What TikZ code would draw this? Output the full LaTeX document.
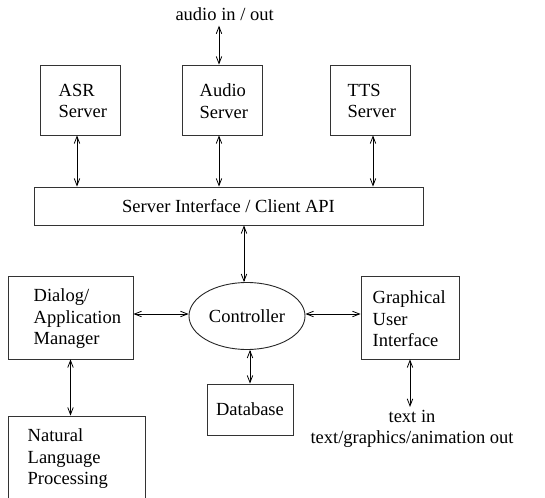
\documentclass[tikz,border=0pt]{standalone}
\usepackage{fontspec}
\setmainfont{Liberation Serif}
\usetikzlibrary{arrows.meta,shapes.geometric}
\begin{document}
\begin{tikzpicture}[x=1pt,y=1pt,
  box/.style={draw=black!80, line width=0.9pt, inner sep=0pt},
  lbl/.style={font=\fontsize{18.5}{21.5}\selectfont, align=left, inner sep=0pt, anchor=west},
  ctext/.style={font=\fontsize{18.5}{21.5}\selectfont, align=center, inner sep=0pt},
  barb/.tip={Straight Barb[length=7pt,width=5.5pt]},
  biarrow/.style={barb-barb, line width=0.8pt}]
\useasboundingbox (0,0) rectangle (545,-497);
\clip (0,0) rectangle (545,-497);
% top servers
\node[box, minimum width=80, minimum height=70] (asr) at (80,-100) {};
\node[lbl] (asrt) at (58.5,-101) {ASR\\Server};
\node[box, minimum width=80, minimum height=70] (audio) at (222,-100) {};
\node[lbl] (audiot) at (199.5,-101) {Audio\\Server};
\node[box, minimum width=80, minimum height=70] (tts) at (370,-100) {};
\node[lbl] (ttst) at (347.5,-101) {TTS\\Server};
\node[ctext] (aio) at (224.6,-14) {audio in / out};
% server interface
\node[box, minimum width=389, minimum height=38, ctext] (sif) at (228.5,-206) {Server Interface / Client API};
% controller row
\node[draw=black!85, line width=0.9pt, ellipse, minimum width=116, minimum height=67, ctext] (ctrl) at (247,-316) {Controller};
\node[box, minimum width=125, minimum height=83] (dialog) at (70.5,-317.5) {};
\node[lbl] (dialogt) at (33.5,-319) {Dialog/\\Application\\Manager};
\node[box, minimum width=98, minimum height=83] (gui) at (410,-317.5) {};
\node[lbl] (guit) at (372.5,-319) {Graphical\\User\\Interface};
% bottom
\node[box, minimum width=86, minimum height=51, ctext] (db) at (250,-409.5) {Database};
\node[box, minimum width=137, minimum height=96] (nlp) at (76.5,-464) {};
\node[lbl] (nlpt) at (27.5,-459) {Natural\\Language\\Processing};
\node[ctext] (tio) at (412,-429) {text in\\text/graphics/animation out};
% connectors
\draw[biarrow] ([xshift=-3pt]asr.south) -- ([xshift=-3pt]asr.south |- sif.north);
\draw[biarrow] ([xshift=-3pt]audio.south) -- ([xshift=-3pt]audio.south |- sif.north);
\draw[biarrow] ([xshift=3pt]tts.south) -- ([xshift=3pt]tts.south |- sif.north);
\draw[biarrow] ([xshift=-3pt]audio.north) -- ([xshift=-3pt,yshift=-5pt]audio.north |- aio.south);
\draw[biarrow] ([xshift=-3pt]ctrl.north |- sif.south) -- ([xshift=-3pt]ctrl.north);
\draw[biarrow] ([yshift=2pt]ctrl.west) -- ([yshift=2pt]ctrl.west -| dialog.east);
\draw[biarrow] ([yshift=2pt]ctrl.east) -- ([yshift=2pt]ctrl.east -| gui.west);
\draw[biarrow] (db.north |- ctrl.south) -- (db.north);
\draw[biarrow] (dialog.south) -- (dialog.south |- nlp.north);
\draw[biarrow] (gui.south) -- ([yshift=3pt]gui.south |- tio.north);
\end{tikzpicture}
\end{document}
